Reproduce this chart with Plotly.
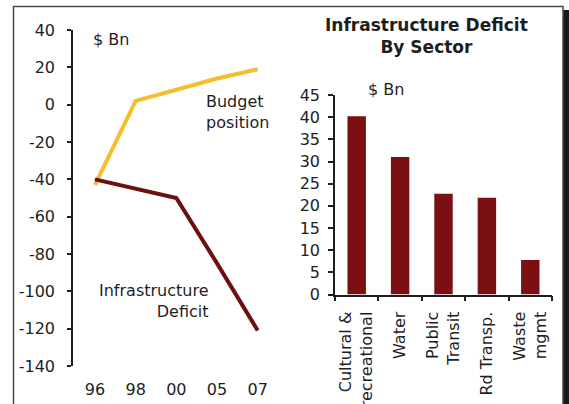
import plotly.graph_objects as go

# left panel: budget position vs infrastructure deficit ($ Bn)
years = ["96", "98", "00", "05", "07"]
budget = [-43, 2, 8, 14, 19]
deficit = [-40, -45, -50, -85, -121]
left_ticks = [40, 20, 0, -20, -40, -60, -80, -100, -120, -140]
left_tick_text = ["40", "20", "0", "-20", "-40", "-60", "-80", "-100", "-120", "-140"]

# right panel: deficit by sector ($ Bn)
sectors = ["Cultural &<br>recreational", "Water", "Public<br>Transit", "Rd Transp.", "Waste<br>mgmt"]
sector_deficit = [40.2, 31.0, 22.7, 21.8, 7.8]

W, H = 569, 404
YELLOW = "#F4BE2C"
MAROON = "#6B0F0F"
BAR = "#7A1012"
INK = "#1E1E1E"
FONT = "DejaVu Sans"


def px(x):
    return x / W


def py(y):
    return 1 - y / H


fig = go.Figure()
fig.add_trace(go.Scatter(x=years, y=budget, mode="lines", line=dict(color=YELLOW, width=4),
                         xaxis="x", yaxis="y", showlegend=False))
fig.add_trace(go.Scatter(x=years, y=deficit, mode="lines", line=dict(color=MAROON, width=4),
                         xaxis="x", yaxis="y", showlegend=False))
fig.add_trace(go.Bar(x=sectors, y=sector_deficit, marker=dict(color=BAR, line=dict(width=0)),
                     xaxis="x2", yaxis="y2", showlegend=False))

tick_font = dict(family=FONT, size=16, color=INK)
axis_common = dict(showgrid=False, zeroline=False, linecolor=INK, linewidth=1.5, automargin=False,
                   tickcolor=INK, tickwidth=1.5, tickfont=tick_font)

fig.update_layout(
    width=W, height=H,
    margin=dict(l=0, r=0, t=0, b=0),
    paper_bgcolor="white", plot_bgcolor="white",
    font=dict(family=FONT, color=INK),
    bargap=0.575,
    xaxis=dict(domain=[px(73), px(274)], anchor="y", type="category", range=[-0.54, 4.4],
               showline=False, ticks="", ticklabelstandoff=12, showgrid=False, zeroline=False,
               automargin=False, tickfont=tick_font),
    yaxis=dict(domain=[py(366), py(30)], anchor="x", range=[-140, 40],
               tickmode="array", tickvals=left_ticks, ticktext=left_tick_text,
               showline=True, ticks="outside", ticklen=4, ticklabelstandoff=9, **axis_common),
    xaxis2=dict(domain=[px(335), px(552)], anchor="y2", type="category", range=[-0.5, 4.5],
                showline=True, ticks="outside", tickson="boundaries", ticklen=5, tickangle=-90,
                ticklabelstandoff=9, **axis_common),
    yaxis2=dict(domain=[py(294.5), py(95)], anchor="x2", range=[0, 45], dtick=5,
                showline=True, ticks="outside", ticklen=5, ticklabelstandoff=5, **axis_common),
)

# frame and drop shadow
fig.add_shape(type="rect", xref="paper", yref="paper", x0=px(563), x1=px(569), y0=py(410), y1=py(10),
              fillcolor="#1A1A1A", line=dict(width=0), layer="above")
fig.add_shape(type="rect", xref="paper", yref="paper", x0=px(13.5), x1=px(563), y0=py(410), y1=py(6.5),
              line=dict(color="#4A4A4A", width=1.5), fillcolor="rgba(0,0,0,0)", layer="above")

notes = [
    dict(text="$ Bn", x=px(91), y=py(40), xanchor="left", align="left", size=16),
    dict(text="Budget<br>position", x=px(204), y=py(112), xanchor="left", align="left", size=16),
    dict(text="Infrastructure<br>Deficit", x=px(210), y=py(301), xanchor="right", align="right", size=16),
    dict(text="$ Bn", x=px(366), y=py(90), xanchor="left", align="left", size=16),
    dict(text="<b>Infrastructure Deficit<br>By Sector</b>", x=px(426), y=py(36), xanchor="center",
         align="center", size=17),
]
for n in notes:
    fig.add_annotation(text=n["text"], x=n["x"], y=n["y"], xref="paper", yref="paper",
                       xanchor=n["xanchor"], yanchor="middle", align=n["align"], showarrow=False,
                       font=dict(family=FONT, size=n["size"], color=INK))

fig.write_html("out.html", config={"displayModeBar": False},
               post_script="document.body.style.margin='0px';")
